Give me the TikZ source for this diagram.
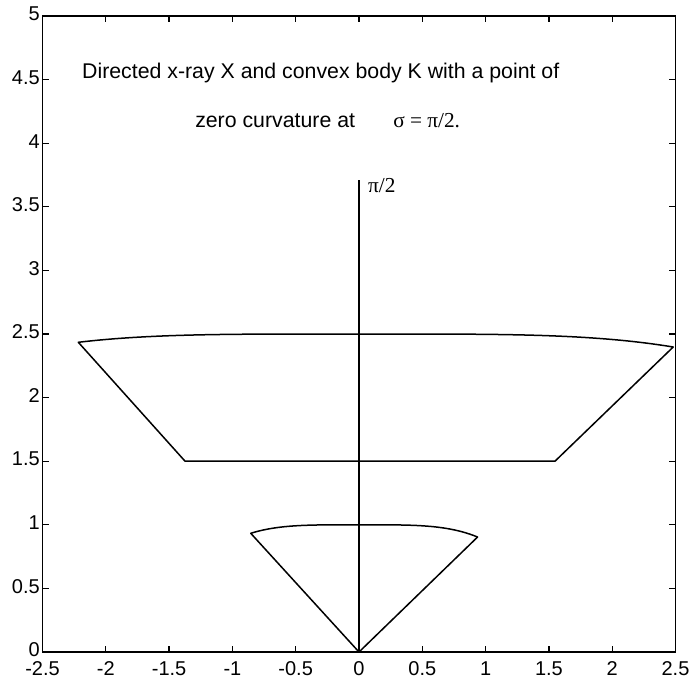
\documentclass[tikz,border=0pt]{standalone}
\usepackage{fontspec}
\setmainfont{Liberation Sans}
\newfontfamily\timesfont{Liberation Serif}
\usetikzlibrary{positioning, calc}

\begin{document}
\begin{tikzpicture}[x=126.6pt, y=127.2pt,
		axisline/.style={line width=1.2pt},
		bodyline/.style={line width=1.5pt, line join=round},
		ticklabel/.style={font=\fontsize{20}{24}\selectfont, inner sep=0pt},
		textlabel/.style={font=\fontsize{21.3}{25}\selectfont, inner sep=0pt, anchor=base west}]
	\useasboundingbox (-2.8357,-0.2123) rectangle (2.6461,5.1258);
	
	% Axes box and ticks
	\draw[axisline] (-2.5,0) rectangle (2.5,5);
	\foreach \x in {-2.5,-2,-1.5,-1,-0.5,0,0.5,1,1.5,2,2.5} {
		\draw[axisline] (\x,0) -- ++(0,6.5pt);
		\draw[axisline] (\x,5) -- ++(0,-6.5pt);
		\node[ticklabel, anchor=base] at (\x,-0.183) {\x};
	}
	\foreach \y in {0,0.5,1,1.5,2,2.5,3,3.5,4,4.5,5} {
		\draw[axisline] (-2.5,\y) -- ++(6.5pt,0);
		\draw[axisline] (2.5,\y) -- ++(-6.5pt,0);
		\node[ticklabel, anchor=east, yshift=2pt] at (-2.52,\y) {\y};
	}
	
	% Directed x-ray
	\coordinate (O) at (0,0);
	\coordinate (T) at (0,3.71);
	\draw[bodyline] (O) -- (T);
	\node[textlabel] (angle) at (0.071,3.61) {\timesfont π/2};
	
	% Small body
	\draw[bodyline] (O) -- plot[domain=-0.855:0.937, samples=60] (\x,{1-0.125*(\x)*(\x)*(\x)*(\x)}) -- cycle;
	
	% Convex body K
	\coordinate (BL) at (-1.374,1.5);
	\coordinate (BR) at (1.548,1.5);
	\draw[bodyline] (BL) -- plot[domain=-2.217:2.483, samples=80] (\x,{2.5-0.0027*(\x)*(\x)*(\x)*(\x)}) -- (BR) -- cycle;
	
	% Caption
	\node[textlabel] (line1) at (-2.188,4.505) {Directed x-ray X and convex body K with a point of};
	\node[textlabel] (line2) at (-1.295,4.127) {zero curvature at};
	\node[textlabel] (sigma) at (0.269,4.127) {\timesfont σ = π/2.};
	
\end{tikzpicture}
\end{document}
